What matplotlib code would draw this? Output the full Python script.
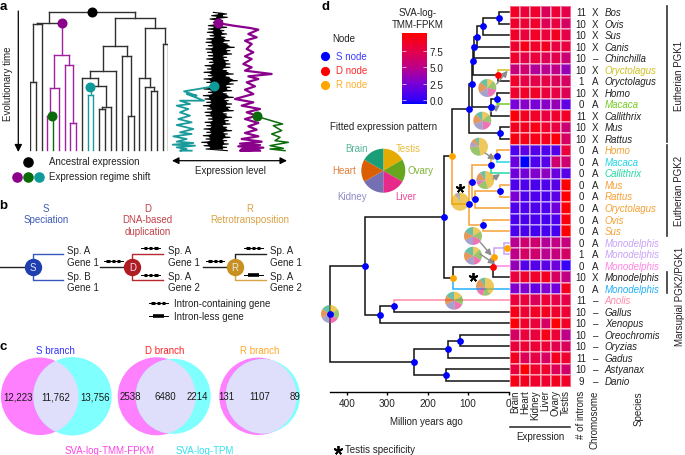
import numpy as np
import matplotlib
matplotlib.use("Agg")
import matplotlib.pyplot as plt
from matplotlib.colors import LinearSegmentedColormap, Normalize
from matplotlib.patches import Circle

plt.rcParams['font.family'] = ['Liberation Sans', 'DejaVu Sans']
plt.rcParams['font.size'] = 7
INK = '#222222'

# ---------- data: panel d ----------
species = ['Bos','Ovis','Sus','Canis','Chinchilla','Oryctolagus','Oryctolagus','Homo','Macaca','Callithrix','Mus','Rattus',
           'Homo','Macaca','Callithrix','Mus','Rattus','Oryctolagus','Ovis','Sus',
           'Monodelphis','Monodelphis','Monodelphis','Monodelphis','Monodelphis',
           'Anolis','Gallus','Xenopus','Oreochromis','Oryzias','Gadus','Astyanax','Danio']
introns = [11,10,10,10,10,10,1,10,0,11,10,10, 0,0,0,0,0,0,0,0, 0,1,0,10,0, 11,10,10,10,10,11,10,9]
chromosome = ['X','X','X','X','–','X','A','X','A','X','X','X', 'A','A','A','A','A','A','A','A',
              'A','A','A','X','A', '–','–','–','–','–','–','–','–']
tissues = ['Brain','Heart','Kidney','Liver','Ovary','Testis']
expression = [
 [8.8,8.0,8.5,6.8,8.2,7.5],[8.5,8.2,8.5,7.0,7.8,6.5],[8.7,8.0,8.8,8.0,9.0,7.5],[8.4,9.3,8.6,9.0,7.8,7.8],
 [8.5,7.5,8.0,7.0,7.3,5.8],[5.5,6.0,4.5,4.8,5.0,3.5],[8.6,7.6,7.4,7.6,6.9,6.5],[8.5,8.8,8.7,8.0,7.7,7.0],
 [2.5,3.0,2.5,3.0,3.5,1.6],[9.8,8.9,8.8,7.8,8.5,8.7],[9.0,9.0,9.4,8.5,7.8,5.8],[9.5,9.2,9.4,9.0,9.8,6.5],
 [1.0,1.5,1.2,1.0,1.2,8.0],[2.0,-0.6,1.0,1.2,6.0,6.0],[2.2,2.4,2.8,3.2,2.0,1.3],[1.0,1.0,0.9,1.0,1.3,10.0],
 [2.6,1.0,1.0,0.9,1.5,10.0],[1.0,1.0,1.0,1.0,2.2,10.0],[0.9,0.9,0.9,0.7,1.0,9.5],[0.9,0.9,0.7,0.7,0.7,10.0],
 [4.8,6.0,6.0,4.5,5.2,5.5],[5.0,6.4,6.0,4.8,5.5,6.3],[3.5,1.2,1.2,1.5,2.2,0.2],[8.0,8.5,8.6,8.9,6.5,5.2],
 [2.8,2.8,1.7,2.8,2.2,9.0],[8.0,8.0,6.8,8.2,7.5,7.5],[9.3,8.3,8.8,9.0,8.5,8.2],[9.8,8.6,8.0,6.5,10.0,8.7],
 [6.5,8.0,8.0,9.4,8.2,5.0],[8.0,8.3,8.2,8.2,7.3,6.8],[8.9,7.0,7.6,6.5,9.0,8.5],[8.0,10.0,8.5,8.5,7.0,6.2],
 [9.3,9.0,8.6,8.5,9.0,8.7]]
C_OR, C_CY, C_TE = '#f5a033', '#22d6e6', '#22d8a4'
C_YE, C_GR, C_PU, C_PI = '#cfc022', '#74cc22', '#c9a2f8', '#ff84e6'
C_BL, C_AN = '#22b0fa', '#ff8cab'
species_colors = {5:C_YE, 8:C_GR, 12:C_OR, 13:C_CY, 14:C_TE, 15:C_OR, 16:C_OR, 17:C_OR, 18:C_OR, 19:C_OR,
                  20:C_PU, 21:C_PU, 22:C_PI, 24:C_BL, 25:C_AN}

def leaf(row, color=None):
    return dict(row=row, age=0, color=color)
def clade(age, kids, kind='S', color=None, mark=None):
    return dict(age=age, kids=kids, kind=kind, color=color, mark=mark)

euth1 = clade(97, [
    clade(90, [
        clade(88, [
            clade(86, [clade(79, [clade(63, [clade(24,[leaf(0),leaf(1)]), leaf(2)]), leaf(3)]), leaf(4)]),
            clade(27, [leaf(5,C_YE), leaf(6)], kind='D')]),
        clade(43, [clade(30, [leaf(7), leaf(8,C_GR)]), leaf(9)])]),
    clade(21, [leaf(10), leaf(11)])])
euth2 = clade(99, [
    clade(91, [
        clade(44, [clade(30, [leaf(12,C_OR), leaf(13,C_CY)], color=C_OR), leaf(14,C_TE)], color=C_OR),
        clade(83, [clade(21, [leaf(15),leaf(16)]), leaf(17)])]),
    clade(63, [leaf(18), leaf(19)])], color=C_OR)
marsup = clade(137, [
    clade(40, [
        clade(36, [clade(11, [leaf(20),leaf(21)], kind='R', color=C_PU, mark=3), leaf(22,C_PI)], kind='R'),
        leaf(23)], kind='D'),
    leaf(24,C_BL)], kind='R')
vert = clade(356, [
    clade(160, [clade(141, [euth1, euth2], kind='R'), marsup]),
    clade(318, [clade(283, [leaf(25,C_AN), leaf(26)]), leaf(27)])])
fish = clade(233, [
    clade(150, [clade(120, [leaf(28),leaf(29)]), leaf(30)]),
    clade(155, [leaf(31),leaf(32)])])
tree_root = clade(441, [vert, fish])

age_ticks = [0,100,200,300,400]
cbar_ticks = [0.0,2.5,5.0,7.5]

# order: Testis, Ovary, Liver, Kidney, Heart, Brain
pie_labels = ['Testis','Ovary','Liver','Kidney','Heart','Brain']
pie_colors = ['#e6ab02','#66a61e','#e7298a','#7570b3','#d95f02','#1b9e77']
pie_text_colors = ['#e8bd3c','#7fb538','#ea4a9c','#8f8bc4','#e07f3c','#55b598']
legend_shares = [1,1,1,1,1,1]
pie_centers = [(487.3,89),(482.3,121.7),(479,147.7),(485.3,181),(460,202.7),(473,237),(473,256.7),(485,287.7),(454,301.7),(330,315)]
pie_shares = [[.11,.17,.20,.18,.20,.14],[.13,.16,.20,.20,.18,.13],[.47,.28,.02,.08,.08,.07],[.45,.20,.07,.03,.15,.10],
              [.90,.02,.02,.02,.02,.02],[.16,.17,.17,.17,.16,.17],[.13,.20,.15,.17,.17,.18],[.40,.14,.13,.06,.18,.09],
              [.16,.16,.16,.20,.16,.16],[.17,.17,.17,.17,.16,.16]]
pie_arrows = [((496.7,85),(507.7,71.7)),((490,113),(500,106)),((485,154),(495,160.7)),((493,180),(500,175)),
              ((480,243),(491.7,256.7)),((480,255),(495,265))]

# ---------- data: panel a (zoomed picture units, 3 per pixel) ----------
L = {}
def n(t, *kids, color=None):
    return dict(t=t, kids=kids, color=color)
tree_a = n(38,
    n(72, n(75, n(248,L,L), L),
      n(168, n(268, n(350,L,dict(kids=(),color='#0b6b0b')), L), n(197, L, n(372,L,L)), color='#a020a0')),
    n(58,
      n(140,
        n(217, n(237, L, n(262, n(287,L,L,color='#1a9a9a'), n(323, n(330,L,L), L))), L),
        n(170, L, n(350,L,L))),
      n(88, n(238, L, n(263, L, n(277,L,L))), n(135,L,L))))
black_y = list(range(40,460,10))
black_left = [640,635,630,640,625,625,622,630,620,618,625,618,622,625,620,628,615,622,612,625,612,620,630,612,625,610,615,620,610,622,615,618,625,615,620,612,620,610,618,605,612,618]
black_right = [680,682,668,668,680,672,680,675,688,682,703,690,695,680,685,690,690,680,700,688,712,700,690,695,680,700,685,695,690,700,680,695,685,690,680,695,682,690,680,685,680,682]
purple_x = [653,700,750,775,745,770,735,755,740,760,735,755,730,755,735,815,745,775,740,765,735,760,705,760,725,780,740,770,735,775,745,770,735,775,725,785,720,780,715,790,725,775,720,780]
purple_y = [72,80,87,92,105,115,125,135,150,160,172,180,195,205,215,225,232,240,250,262,272,285,300,310,320,330,340,350,360,372,382,392,402,412,420,428,434,438,442,446,450,452,455,455]
teal_x = [640,595,552,590,560,612,540,570,530,565,540,570,535,575,530,580,540,575,520,560,530,580,518,585,530,560,540,575]
teal_y = [262,270,277,290,285,305,305,315,320,330,340,350,360,370,378,390,400,405,412,420,428,432,437,440,445,450,455,455]
green_x = [770,848,820,845,815,840,825,865,810,850,810,855]
green_y = [352,375,380,395,405,415,425,430,440,448,450,455]

# ---------- data: panel c ----------
venn_titles = ['S branch','D branch','R branch']
venn_title_colors = ['#3434ff','#ff2424','#ffa826']
venn_left = [(39.7,38.8),(156.7,39),(258,38.7)]
venn_right = [(72.5,39.2),(173.2,37.5),(262.8,37.2)]
venn_counts = [['12,223','11,762','13,756'],['2538','6480','2214'],['131','1107','89']]
venn_count_x = [[18.3,55.7,95.3],[130.7,165,197.3],[226,260,294.7]]
venn_title_x = [55.7,165,260]

# ---------- figure ----------
W, H = 685, 456
fig = plt.figure(figsize=(W/100, H/100), dpi=100)
def box(x0, y0, x1, y1):
    return [x0/W, 1-y1/H, (x1-x0)/W, (y1-y0)/H]

ov = fig.add_axes([0,0,1,1], zorder=2)
ov.set_xlim(0,W); ov.set_ylim(H,0); ov.axis('off'); ov.patch.set_alpha(0)
def T(x, y, s, ha='center', va='center', color=INK, **k):
    return ov.text(x, y, s, ha=ha, va=va, color=color, **k)

for s,x,y in [('a',3,7),('b',3,206),('c',3,347),('d',325.5,7)]:
    T(x,y,s,ha='center',fontsize=9.5,fontweight='bold',color='black')

# ---- panel a ----
ax_a = fig.add_axes(box(30,0,168.3,H), zorder=1)
ax_a.set_xlim(0,24); ax_a.set_ylim(H*3,0); ax_a.axis('off')
leaf_count = [0]
marks = {}
def draw_a(node, parent_t, color):
    c = node.get('color') or color
    kids = node.get('kids', ())
    if not kids:
        x = leaf_count[0]; leaf_count[0] += 1
        ax_a.plot([x,x],[parent_t,453],color=c,lw=1.0)
        return x
    t = node['t']
    xs = [draw_a(k,t,c) for k in kids]
    x = sum(xs)/len(xs)
    ax_a.plot([xs[0],xs[-1]],[t,t],color=c,lw=1.0,solid_capstyle='projecting')
    if parent_t is not None:
        ax_a.plot([x,x],[parent_t,t],color=c,lw=1.0)
    marks[id(node)] = x
    return x
draw_a(tree_a,None,'#303030')
root_x = marks[id(tree_a)]
ax_a.plot(root_x,38,'o',color='black',ms=6.2,zorder=5)
p_node = tree_a['kids'][0]['kids'][1]
ax_a.plot(marks[id(p_node)],72,'o',color='#8b008b',ms=6.2,zorder=5)
ax_a.plot(3.9,352,'o',color='#0b6b0b',ms=6.2,zorder=5)
ax_a.plot(10.4,263,'o',color='#0f9a9a',ms=6.2,zorder=5)

ov.annotate('',xy=(18.3,153),xytext=(18.3,12),arrowprops=dict(arrowstyle='-|>',color='black',lw=0.9,mutation_scale=11,shrinkA=0,shrinkB=0))
T(8,84,'Evolutionary time',rotation=90)

# black trace: jagged zigzag between the read edges, over a filled core
zig_x, zig_y = [], []
for yy,a,b in zip(black_y,black_left,black_right):
    zig_x += [a/3,b/3]; zig_y += [yy/3,(yy+5)/3]
ov.plot(zig_x,zig_y,color='black',lw=0.8)
ov.fill_betweenx([v/3 for v in black_y],[(v+14)/3 for v in black_left],[(v-14)/3 for v in black_right],color='black',lw=0)
ov.plot([v/3 for v in purple_x],[v/3 for v in purple_y],color='#8b008b',lw=1.6)
ov.plot([v/3 for v in teal_x],[v/3 for v in teal_y],color='#1a9a9a',lw=1.3)
ov.plot([v/3 for v in green_x],[v/3 for v in green_y],color='#0b6b0b',lw=1.1)
for x,y,c in [(654,72,'#8b008b'),(641,262,'#0f9a9a'),(770,352,'#0b6b0b')]:
    ov.plot(x/3,y/3,'o',color=c,ms=6.2)
ov.annotate('',xy=(287,161.7),xytext=(172,161.7),arrowprops=dict(arrowstyle='<|-|>',color='black',lw=0.9,mutation_scale=10,shrinkA=0,shrinkB=0))
T(230,171,'Expression level')
ov.plot(27.7,162.7,'o',color='black',ms=6.6)
T(49,162,'Ancestral expression',ha='left')
for x,c in [(16.7,'#8b008b'),(28,'#0b6b0b'),(38.7,'#0f9a9a')]:
    ov.plot(x,177.7,'o',color=c,ms=6.6)
T(49,177.5,'Expression regime shift',ha='left')

# ---- panel b ----
C_S, C_D, C_R = '#1f3fb0', '#b01c22', '#c8901f'
T(46.3,209,'S',color='#3f5bb8'); T(46.3,220.3,'Speciation',color='#3f5bb8')
T(147.3,209,'D',color='#c2434a'); T(147.3,220.3,'DNA-based',color='#c2434a'); T(147.3,232.3,'duplication',color='#c2434a')
T(250,209,'R',color='#d8a347'); T(250,220.3,'Retrotransposition',color='#d8a347')
def gene(x,y,intron=True):
    ov.plot([x-9.5,x+9.5],[y,y],color='black',lw=0.7,zorder=4)
    if intron:
        for a,b in [(-7,-3.5),(-1.5,1.5),(3.5,7)]:
            ov.plot([x+a,x+b],[y,y],color='black',lw=2.2,solid_capstyle='butt',zorder=4)
    else:
        ov.plot([x-5.5,x+5.5],[y,y],color='black',lw=2.6,solid_capstyle='butt',zorder=4)
ym = 268.3
for x0,xn,xe,top,bot,fc,label,xt,txt in [
    (0,32.7,63.3,'#3a57bd','#3a57bd',C_S,'S',67.3,['Sp. A','Gene 1','Sp. B','Gene 1']),
    (100,132.3,163.3,'#b8272d','#b8272d',C_D,'D',168.3,['Sp. A','Gene 1','Sp. A','Gene 2']),
    (202.7,235,265.7,'#222222','#d9a447',C_R,'R',270,['Sp. A','Gene 1','Sp. A','Gene 2'])]:
    ov.plot([x0,xn],[ym,ym],color='#222222',lw=1.0)
    ov.plot([xe,xn,xn],[255,255,ym],color=top,lw=1.0)
    ov.plot([xe,xn,xn],[280.7,280.7,ym],color=bot,lw=1.0)
    ov.plot(xn,ym,'o',color=fc,ms=11.5,zorder=5)
    ov.text(xn,ym,label,color='#e8e8f4',ha='center',va='center',zorder=6)
    for yy,s in zip([250.7,262.7,276.7,288.3],txt):
        T(xt,yy,s,ha='left')
for x,y,i in [(113.3,261.7,True),(150.7,249,True),(150.7,275.7,True),(215,261.7,True),(253.3,249,True),(253.3,275.7,False)]:
    gene(x,y,i)
gene(158.3,304.3,True); T(174.3,304.5,'Intron-containing gene',ha='left')
gene(158.3,316.7,False); T(174.3,316.7,'Intron-less gene',ha='left')

# ---- panel c ----
VY = 397.3
for i in range(3):
    T(venn_title_x[i],350.7,venn_titles[i],color=venn_title_colors[i])
    (xl,rl),(xr,rr) = venn_left[i],venn_right[i]
    a = Circle((xl,VY),rl,fc='#ff80ff',ec='none'); b = Circle((xr,VY),rr,fc='#80ffff',ec='none')
    ov.add_patch(a); ov.add_patch(b)
    o = Circle((xr,VY),rr,fc='#dfdffb',ec='none'); ov.add_patch(o)
    o.set_clip_path(Circle((xl,VY),rl,transform=ov.transData))
    for s,x in zip(venn_counts[i],venn_count_x[i]):
        T(x,VY,s,color='#1a1a1a')
T(109.3,450.7,'SVA-log-TMM-FPKM',color='#ff44e4')
T(204.3,450.7,'SVA-log-TPM',color='#33e2f2')

# ---- panel d: heat map ----
HX0,HX1,HY0,HY1 = 510,571,7.3,387.7
stops = [(0,'#0000ff'),(0.055,'#3200fa'),(0.29,'#7a00d6'),(0.52,'#be0088'),(0.76,'#e60046'),(1,'#ff0000')]
cmap = LinearSegmentedColormap.from_list('sva',stops)
norm = Normalize(-0.6,10.16)
ax_h = fig.add_axes(box(HX0,HY0,HX1,HY1), zorder=1)
ax_h.pcolormesh(np.arange(7),np.arange(34),np.array(expression),cmap=cmap,norm=norm,edgecolors='#ffffff66',linewidth=0.35)
ax_h.set_ylim(33,0); ax_h.set_xlim(0,6)
ax_h.set_yticks([])
ax_h.set_xticks(np.arange(6)+0.5,tissues,rotation=90,fontsize=7,color=INK)
ax_h.tick_params(axis='x',length=0,pad=2)
for s in ax_h.spines.values(): s.set_visible(False)

row_h = (HY1-HY0)/33
for i,(sp,nn,ch) in enumerate(zip(species,introns,chromosome)):
    y = HY0+(i+0.5)*row_h
    if nn >= 10: T(586,y,str(nn),ha='right')
    else: T(581,y,str(nn))
    T(595.3,y,ch)
    T(604.7,y,sp,ha='left',style='italic',color=species_colors.get(i,INK))
T(581,391,'# of introns',rotation=90,va='top')
T(595,391,'Chromosome',rotation=90,va='top')
T(639,391,'Species',rotation=90,va='top')
ov.plot([510,570.5],[428.3,428.3],color='#222222',lw=1.1)
T(540,437,'Expression')
for y0,y1 in [(7.3,143.3),(146,236.7),(272.7,294.3)]:
    ov.plot([666.7,666.7],[y0,y1],color='#333333',lw=1.2)
T(679,76,'Eutherian PGK1',rotation=90)
T(679,191,'Eutherian PGK2',rotation=90)
T(680,296,'Marsupial PGK2/PGK1',rotation=90)

# ---- panel d: tree ----
pos_tree = box(325,HY0,510,HY1)
ax_t = fig.add_axes(pos_tree, zorder=1)
age_lim = ((508.7-325)/0.405,(508.7-510)/0.405)
ax_t.set_xlim(*age_lim); ax_t.set_ylim(32.5,-0.5)
ax_n = fig.add_axes(pos_tree, zorder=3)
ax_n.set_xlim(*age_lim); ax_n.set_ylim(32.5,-0.5); ax_n.axis('off'); ax_n.patch.set_alpha(0)
node_colors = {'S':'#0000ff','D':'#ff0000','R':'#ffa500'}
def draw_tree(node, edge):
    if 'row' in node: return node['row']
    ys = []
    for k in node['kids']:
        c = k.get('color') or edge
        cy = draw_tree(k,c)
        ys.append((cy,k['age'],c))
    y = sum(v[0] for v in ys)/len(ys)
    for cy,ca,c in ys:
        ax_t.plot([node['age'],node['age'],ca],[y,cy,cy],color=c,lw=1.1,
                  solid_capstyle='projecting',solid_joinstyle='miter',zorder=3 if c=='#111111' else 2)
    ax_n.plot(node['mark'] if node.get('mark') is not None else node['age'],y,'o',
              color=node_colors[node['kind']],ms=4.9,mew=0,clip_on=False)
    return y
draw_tree(tree_root,'#111111')
ax_t.patch.set_alpha(0)
for s in ['top','left','right']: ax_t.spines[s].set_visible(False)
ax_t.spines['bottom'].set_position(('outward',3.6))
ax_t.spines['bottom'].set_bounds(0,441)
ax_t.spines['bottom'].set_linewidth(1.0)
ax_t.set_yticks([])
ax_t.set_xticks(age_ticks)
ax_t.tick_params(axis='x',length=2.2,width=1.0,pad=2,labelsize=7.2,labelcolor=INK)
T(426,422,'Million years ago')
for x,y in [(460,189),(473.3,277.7),(337.7,451)]:
    ov.plot(x,y,marker=(5,2,0),color='black',ms=6.5,mew=1.3)
T(345,450,'Testis specificity',ha='left')

# pies
for c,sh in zip(pie_centers,pie_shares):
    ov.pie(sh,colors=pie_colors,center=c,radius=9,startangle=-90,frame=True,
           wedgeprops=dict(alpha=0.65,lw=0))
ov.pie(legend_shares,colors=pie_colors,center=(383.3,171.7),radius=22,startangle=-90,frame=True,wedgeprops=dict(lw=0))
ov.set_xlim(0,W); ov.set_ylim(H,0); ov.axis('off')
for (a,b) in pie_arrows:
    ov.annotate('',xy=b,xytext=a,arrowprops=dict(arrowstyle='-|>',color='#8c8c8c',lw=1.0,mutation_scale=9,shrinkA=0,shrinkB=0))
T(384,127.5,'Fitted expression pattern')
for (x,y),s,c in zip([(408,149),(421,171),(406,197),(352,197),(344,171),(357,149)],pie_labels,pie_text_colors):
    T(x,y,s,color=c)

# legends of panel d
T(344,39,'Node',ha='center')
for y,s,c in [(57,'S node','#0000ff'),(71.5,'D node','#ff0000'),(86,'R node','#ffa500')]:
    ov.plot(325.3,y,'o',color=c,ms=6.6,mew=0)
    T(336,y-0.5,s,ha='left',color={'#0000ff':'#3c3cff','#ff0000':'#ff2a2a','#ffa500':'#ffb030'}[c])
T(418,13,'SVA-log-'); T(418,25,'TMM-FPKM')

ax_c = fig.add_axes(box(402.3,34,426.7,105), zorder=1)
grad = np.linspace(10.16,-0.6,256).reshape(-1,1)
ax_c.imshow(grad,aspect='auto',cmap=cmap,norm=norm,extent=[0,1,-0.6,10.16])
ax_c.set_xticks([])
ax_c.set_yticks(cbar_ticks,[f'{v:.1f}' for v in cbar_ticks])
ax_c.tick_params(axis='y',direction='in',color='#ffffffaa',length=3,width=0.7,labelsize=7.2,labelcolor=INK,pad=2)
ax_c.yaxis.tick_right()
ax_c.tick_params(axis='y',left=True,right=True)
for s in ax_c.spines.values(): s.set_visible(False)

fig.savefig('out.png',dpi=100)
